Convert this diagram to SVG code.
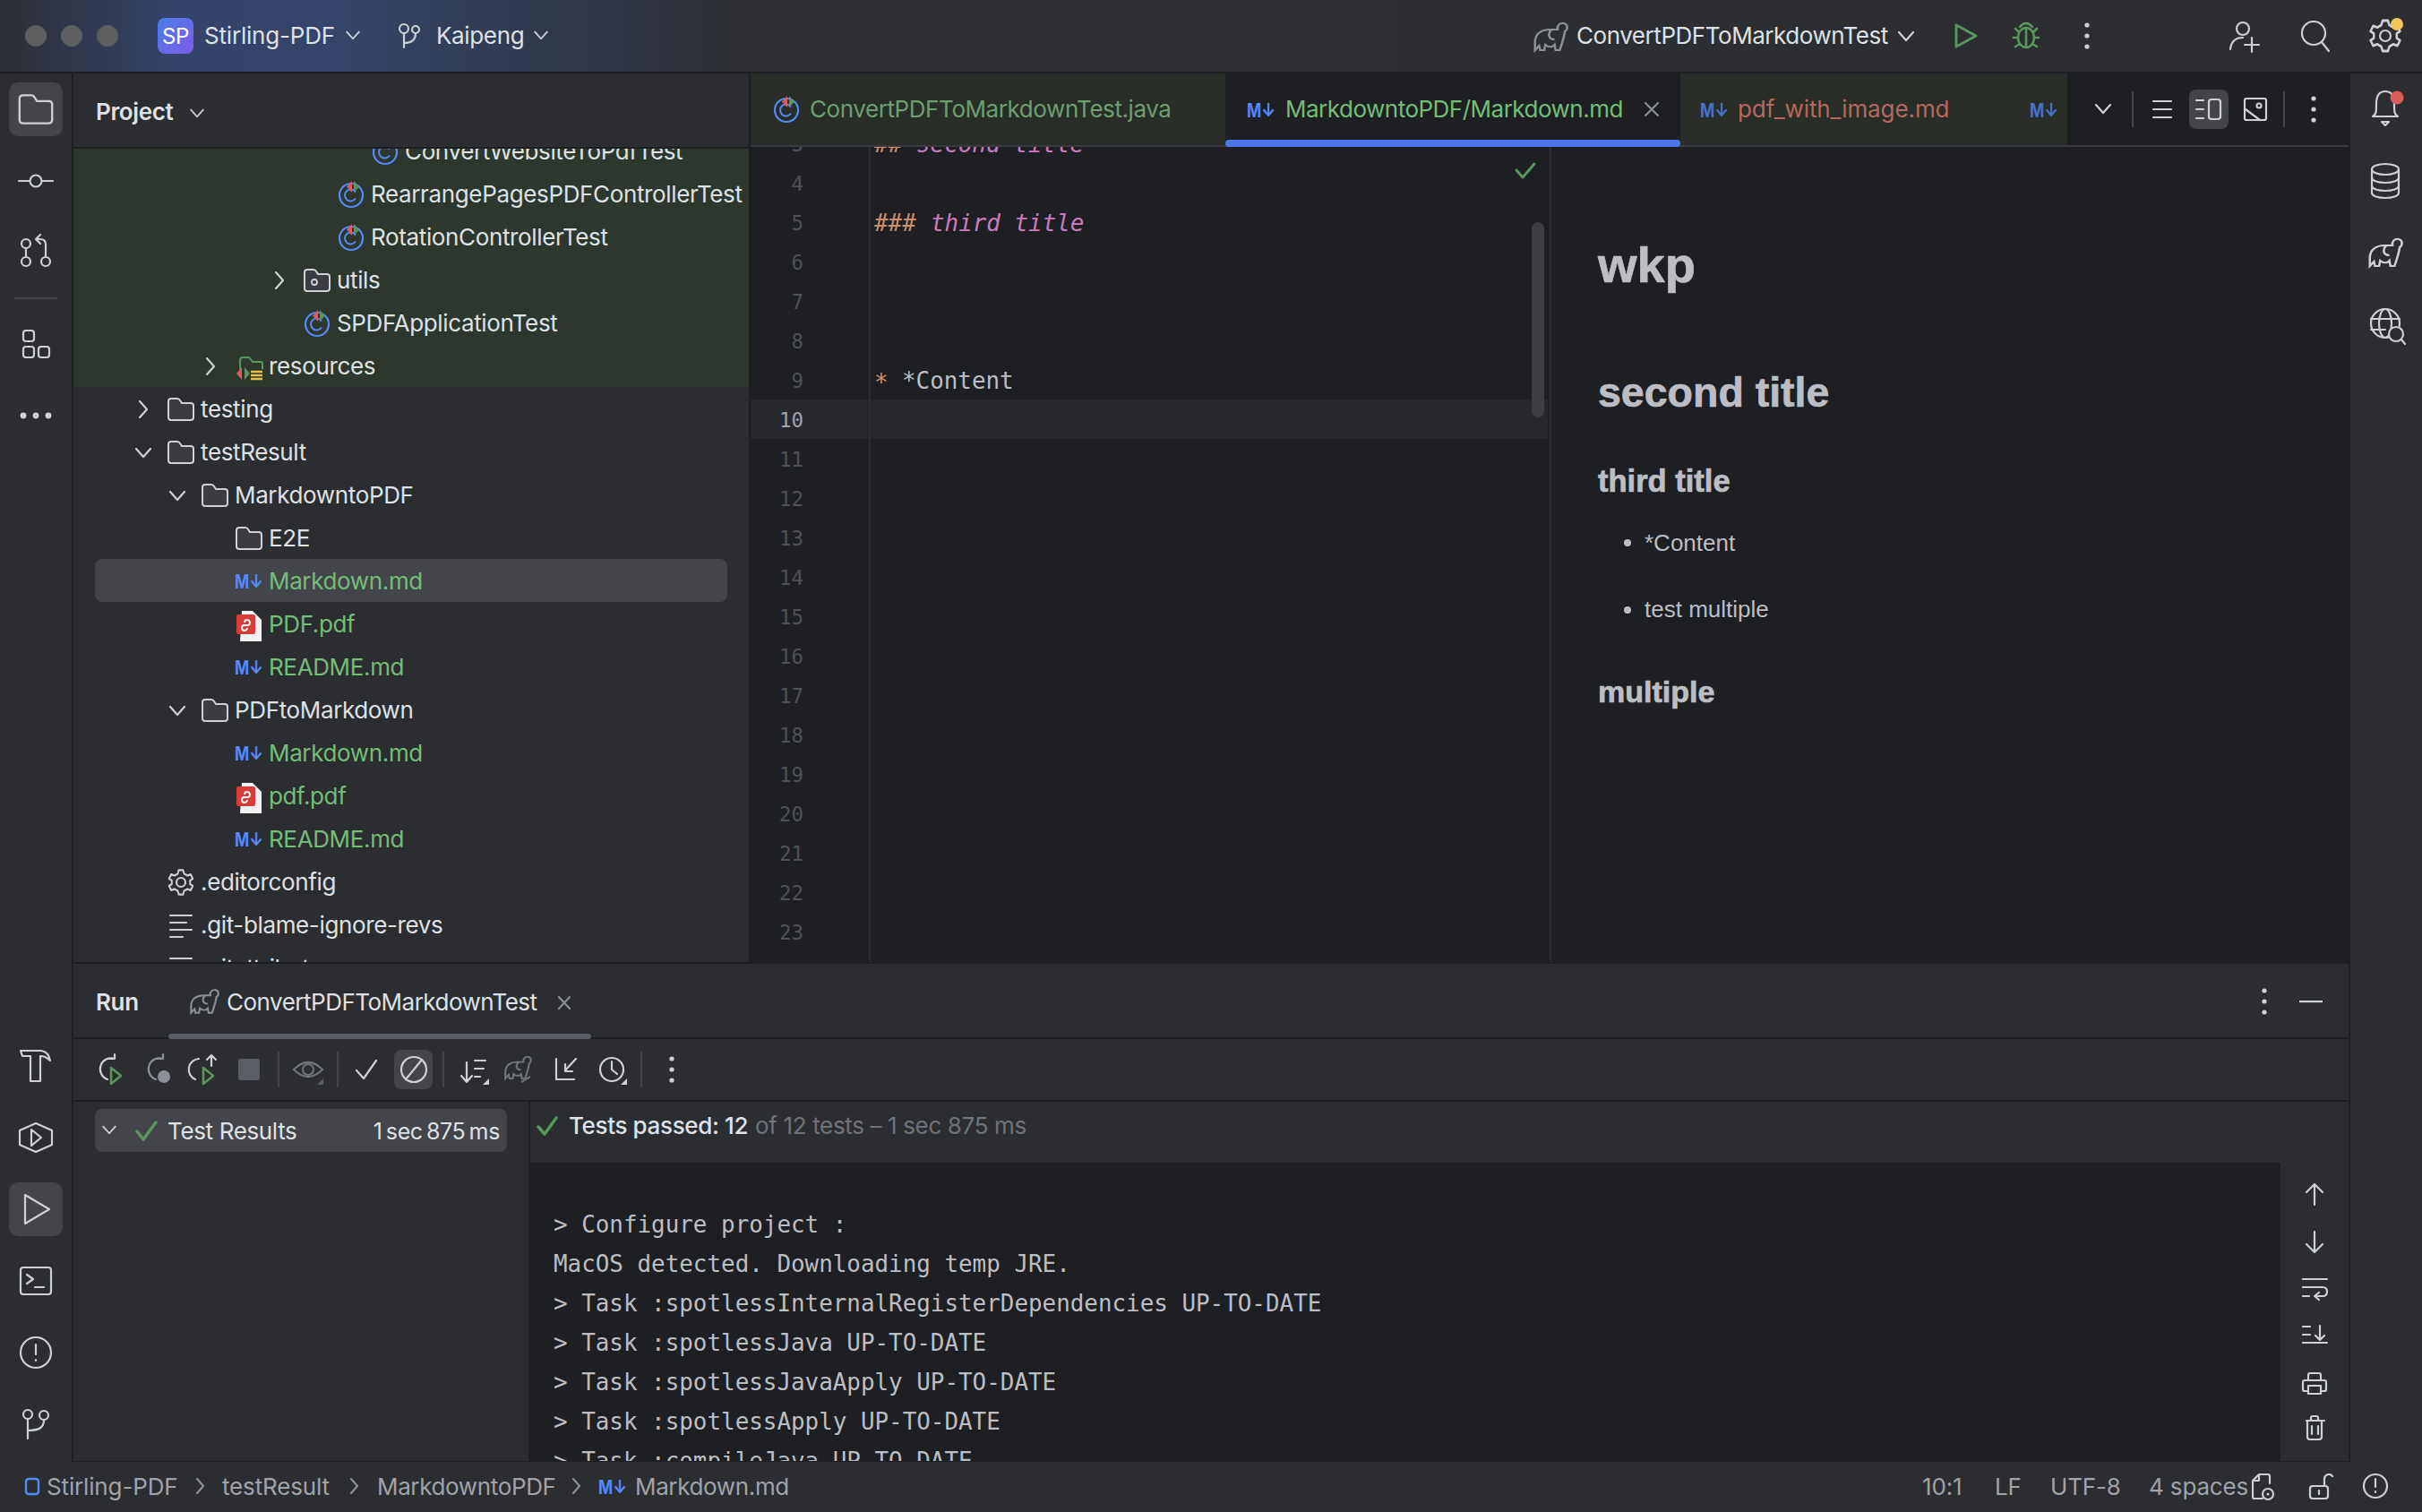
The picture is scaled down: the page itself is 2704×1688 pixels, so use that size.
<svg xmlns="http://www.w3.org/2000/svg" width="2704" height="1688" viewBox="0 0 2704 1688">
<style>
.t{font-family:Inter,"Liberation Sans",sans-serif;font-size:26px;fill:#dfe1e5;letter-spacing:-.36px}
.b{font-weight:600}
.g{fill:#73bd79}
.dim{fill:#6f737a}
.st{fill:#a0a3a9;letter-spacing:-.15px}
.ts{word-spacing:-2.5px}
.m{font-family:"DejaVu Sans Mono","Liberation Mono",monospace;font-size:25.9px;fill:#bcbec4}
.n{font-family:"DejaVu Sans Mono","Liberation Mono",monospace;font-size:22.4px;fill:#4e5157;text-anchor:end}
.p{font-family:"Liberation Sans",Arial,sans-serif;fill:#bcbec4}
.pb{font-weight:700;stroke:#bcbec4;stroke-width:.7px}
.md{font-family:Inter,"Liberation Sans",sans-serif;font-size:21px;font-weight:700;fill:#548af7}
.i{fill:none;stroke:#ced0d6;stroke-width:2.2;stroke-linecap:round;stroke-linejoin:round}
.d{fill:none;stroke:#8c8f96;stroke-width:2.2;stroke-linecap:round;stroke-linejoin:round}
.gi{fill:none;stroke:#57965c;stroke-width:2.6;stroke-linecap:round;stroke-linejoin:round}
.hl{fill:#43454a}
.dv{fill:#1e1f22}
.sep{fill:#43454a}
.dot{fill:#ced0d6}
</style>
<defs>
<linearGradient id="tg" gradientUnits="userSpaceOnUse" x1="0" y1="0" x2="2704" y2="0">
<stop offset="0" stop-color="#2c2e33"/><stop offset="0.07" stop-color="#35436a"/><stop offset="0.14" stop-color="#35446a"/><stop offset="0.3" stop-color="#2d2f34"/><stop offset="1" stop-color="#2b2d30"/>
</linearGradient>
<linearGradient id="sp" x1="0" y1="0" x2="1" y2="1"><stop offset="0" stop-color="#4a7ee8"/><stop offset="1" stop-color="#7c5ce8"/></linearGradient>
<clipPath id="ct"><rect x="82" y="166" width="754" height="908"/></clipPath>
<clipPath id="ce"><rect x="838" y="164" width="890" height="910"/></clipPath>
<clipPath id="cc"><rect x="592" y="1298" width="1954" height="333"/></clipPath>
<g id="folder"><path d="M-11-12h7q2 0 3 2l2 3h10q3 0 3 3v13q0 3-3 3h-22q-3 0-3-3v-18q0-3 3-3z" fill="#3a3c41" stroke="#ced0d6" stroke-width="2"/></g>
<g id="cic"><circle r="13" cy="1" fill="none" stroke="#548af7" stroke-width="2.2"/><path d="M5 -2.500A6.500 6.500 0 1 0 5 4.500" fill="none" stroke="#548af7" stroke-width="2"/><path d="M1-15V-2L-5-8.500z" fill="#db5c5c"/><path d="M3-15V-2L9-8.500z" fill="#57965c"/></g>
<path id="chr" d="M-4-9L4 0L-4 9" class="i"/>
<path id="chd" d="M-8-4L0 5L8-4" class="i"/>
<g id="pdf"><path d="M-8-14h12l10 10v24h-24z" fill="#f2f2f2"/><rect x="-14" y="-10" width="21" height="22" rx="2" fill="#db3b3b"/><path d="M-5-1a3 3 0 1 1 3 3h-3a3 3 0 1 0 3 3" fill="none" stroke="#fff" stroke-width="1.800"/></g>
<g id="ele"><path transform="scale(1.15 1)" d="M-15 15V6C-15-4-8-8-1-8H7C6-12 9-16 13-15C17-14 17-8 14-6C13 2 11 8 9 15H5L4 9C2 12-2 12-5 9L-6 15H-10L-11 10ZM1-8C-3-3-2 3 4 3"/></g>
<path id="gear" d="M-4-20h8l2 6 6 3 6-2 4 7-5 3v6l5 3-4 7-6-2-6 3-2 6h-8l-2-6-6-3-6 2-4-7 5-3v-6l-5-3 4-7 6 2 6-3z" fill="none" stroke="#ced0d6" stroke-width="3.300" stroke-linejoin="round"/>
<g id="dots"><circle cy="-12" r="2.600"/><circle r="2.600"/><circle cy="12" r="2.600"/></g>
</defs>

<rect width="2704" height="1688" fill="#1e1f22"/>

<g id="title-bar">
<rect width="2704" height="80" fill="url(#tg)"/>
<circle cx="40" cy="40" r="12" fill="#5c5e60"/><circle cx="80" cy="40" r="12" fill="#5c5e60"/><circle cx="120" cy="40" r="12" fill="#5c5e60"/>
<rect x="176" y="20" width="40" height="40" rx="8" fill="url(#sp)"/>
<text x="196" y="49" class="t" text-anchor="middle" style="font-size:24px;fill:#fff">SP</text>
<text x="228" y="49" class="t" style="letter-spacing:-.2px">Stirling-PDF</text>
<use href="#chd" transform="translate(394 39) scale(.85)"/>
<circle class="i" cx="451" cy="32" r="5"/><circle class="i" cx="464" cy="33" r="4"/><path class="i" d="M451 37v16M451 48c8 0 13-3 13-11"/>
<text x="487" y="49" class="t">Kaipeng</text>
<use href="#chd" transform="translate(604 39) scale(.85)"/>
<use href="#ele" x="1731" y="41" fill="none" stroke="#8c8f96" stroke-width="2.200"/>
<text x="1760" y="49" class="t" style="letter-spacing:-.45px">ConvertPDFToMarkdownTest</text>
<use href="#chd" x="2128" y="40"/>
<path class="gi" d="M2184 28L2206 40L2184 52Z" style="stroke-width:3"/>
<g class="gi"><ellipse cx="2262" cy="42" rx="9" ry="11"/><path d="M2255 30q7-8 14 0M2250 32l4 4M2274 32l-4 4M2248 42h5M2276 42h-5M2250 52l5-3M2274 52l-5-3M2262 32v20"/></g>
<use href="#dots" x="2330" y="40" fill="#ced0d6"/>
<circle class="i" cx="2504" cy="32" r="7"/><path class="i" d="M2490 55c1-9 6-13 14-13M2506 50h16M2514 42v16"/>
<circle class="i" cx="2583" cy="37" r="13"/><path class="i" d="M2592 47l8 10"/>
<circle class="i" cx="2663" cy="40" r="6"/><use href="#gear" transform="translate(2663 40) scale(.75 .85)"/>
<circle cx="2676" cy="27" r="7" fill="#f2c55c"/>
</g>

<rect y="80" width="2704" height="1608" class="dv"/>

<g id="left-toolbar">
<rect y="82" width="80" height="1550" fill="#2b2d30"/>
<rect x="10" y="92" width="60" height="60" rx="10" class="hl"/>
<path transform="translate(40 122) scale(1.300)" d="M-11-12h7q2 0 3 2l2 3h10q3 0 3 3v13q0 3-3 3h-22q-3 0-3-3v-18q0-3 3-3z" fill="none" stroke="#ced0d6" stroke-width="1.800"/>
<circle class="i" cx="40" cy="202" r="6.500"/><path class="i" d="M21 202h12M47 202h12"/>
<circle class="i" cx="29" cy="272" r="5"/><circle class="i" cx="29" cy="292" r="5"/><circle class="i" cx="51" cy="292" r="5"/><path class="i" d="M29 277v10M51 287v-14q0-6-6-6h-4M45 262l-5 5 5 5"/>
<rect x="16" y="332" width="48" height="2" fill="#43454a"/>
<rect class="i" x="26" y="369" width="12" height="12" rx="3"/><rect class="i" x="26" y="387" width="12" height="12" rx="3"/><rect class="i" x="43" y="387" width="12" height="12" rx="3"/>
<circle cx="26" cy="464" r="3.400" class="dot"/><circle cx="40" cy="464" r="3.400" class="dot"/><circle cx="54" cy="464" r="3.400" class="dot"/>
<path class="i" d="M23 1173H46Q54 1174 56 1184Q51 1179 45 1179V1207H34V1179H25Z"/>
<path class="i" d="M40 1254l18 8v16l-18 8-18-8v-16zM35 1261l11 9-11 9z"/>
<rect x="10" y="1320" width="60" height="60" rx="10" class="hl"/>
<path class="i" d="M28 1334l27 16-27 16z"/>
<rect class="i" x="23" y="1415" width="34" height="30" rx="3"/><path class="i" d="M30 1423l7 5-7 5M39 1437h10"/>
<circle class="i" cx="40" cy="1510" r="17"/><path class="i" d="M40 1501v11M40 1518v1"/>
<circle class="i" cx="31" cy="1579" r="5"/><circle class="i" cx="49" cy="1580" r="5"/><path class="i" d="M31 1584v22M31 1597c14 0 18-4 18-12"/>
</g>

<g id="project-panel">
<rect x="82" y="82" width="754" height="82" fill="#2b2d30"/>
<text x="107" y="134" class="t b">Project</text>
<use href="#chd" transform="translate(220 126) scale(.85)"/>
<rect x="82" y="166" width="754" height="908" fill="#2b2d30"/>
<rect x="82" y="166" width="754" height="266" fill="#2d372d"/>
<rect x="106" y="624" width="706" height="48" rx="8" class="hl"/>
<g clip-path="url(#ct)">
<use href="#cic" x="430" y="169"/><text x="452" y="178" class="t">ConvertWebsiteToPdfTest</text>
<use href="#cic" x="392" y="217"/><text x="414" y="226" class="t">RearrangePagesPDFControllerTest</text>
<use href="#cic" x="392" y="265"/><text x="414" y="274" class="t">RotationControllerTest</text>
<use href="#chr" x="312" y="313"/><use href="#folder" x="354" y="313"/><circle cx="351" cy="315" r="3" fill="none" stroke="#ced0d6" stroke-width="1.800"/><text x="376" y="322" class="t">utils</text>
<use href="#cic" x="354" y="361"/><text x="376" y="370" class="t">SPDFApplicationTest</text>
<use href="#chr" x="235" y="409"/>
<path d="M268 421v-19q0-3 3-3h7l4 5h9q2 0 2 2v6" fill="none" stroke="#57965c" stroke-width="2"/><path d="M270 410v14l-6-7z" fill="#db5c5c"/><path d="M273 410v14l6-7z" fill="#57965c"/><path d="M280 415h13M280 419h13M280 423h13" stroke="#e5c04f" stroke-width="2.400"/>
<text x="300" y="418" class="t">resources</text>
<use href="#chr" x="160" y="457"/><use href="#folder" x="202" y="457"/><text x="224" y="466" class="t">testing</text>
<use href="#chd" x="160" y="505"/><use href="#folder" x="202" y="505"/><text x="224" y="514" class="t">testResult</text>
<use href="#chd" x="198" y="553"/><use href="#folder" x="240" y="553"/><text x="262" y="562" class="t">MarkdowntoPDF</text>
<use href="#folder" x="278" y="601"/><text x="300" y="610" class="t">E2E</text>
<text x="262" y="657" class="md" textLength="32" lengthAdjust="spacingAndGlyphs">M↓</text><text x="300" y="658" class="t g">Markdown.md</text>
<use href="#pdf" x="278" y="696"/><text x="300" y="706" class="t g">PDF.pdf</text>
<text x="262" y="753" class="md" textLength="32" lengthAdjust="spacingAndGlyphs">M↓</text><text x="300" y="754" class="t g">README.md</text>
<use href="#chd" x="198" y="793"/><use href="#folder" x="240" y="793"/><text x="262" y="802" class="t">PDFtoMarkdown</text>
<text x="262" y="849" class="md" textLength="32" lengthAdjust="spacingAndGlyphs">M↓</text><text x="300" y="850" class="t g">Markdown.md</text>
<use href="#pdf" x="278" y="888"/><text x="300" y="898" class="t g">pdf.pdf</text>
<text x="262" y="945" class="md" textLength="32" lengthAdjust="spacingAndGlyphs">M↓</text><text x="300" y="946" class="t g">README.md</text>
<circle class="i" cx="202" cy="985" r="5"/><use href="#gear" transform="translate(202 985) scale(.6 .68)"/><text x="224" y="994" class="t">.editorconfig</text>
<path class="i" d="M190 1022h24M190 1030h18M190 1038h24M190 1046h14"/><text x="224" y="1042" class="t">.git-blame-ignore-revs</text>
<path class="i" d="M190 1070h24M190 1078h18"/><text x="224" y="1090" class="t">.gitattributes</text>
</g>
</g>

<g id="tabs">
<rect x="838" y="82" width="530" height="80" fill="#282d27"/>
<rect x="1876" y="82" width="432" height="80" fill="#282d27"/>
<rect x="838" y="162" width="1784" height="2" fill="#393b40"/>
<use href="#cic" x="878" y="122"/>
<text x="904" y="131" class="t" style="fill:#6d9e6f;letter-spacing:-.42px">ConvertPDFToMarkdownTest.java</text>
<rect x="1368" y="156" width="508" height="8" rx="4" fill="#4a78e8"/>
<text x="1392" y="131" class="md" textLength="32" lengthAdjust="spacingAndGlyphs">M↓</text>
<text x="1435" y="131" class="t g" style="letter-spacing:-.5px">MarkdowntoPDF/Markdown.md</text>
<path d="M1837 115l14 14M1851 115l-14 14" class="d"/>
<text x="1898" y="131" class="md" style="fill:#4a72c4" textLength="32" lengthAdjust="spacingAndGlyphs">M↓</text>
<text x="1940" y="131" class="t" style="fill:#b5685f;letter-spacing:-.1px">pdf_with_image.md</text>
<text x="2266" y="131" class="md" style="fill:#4a72c4" textLength="32" lengthAdjust="spacingAndGlyphs">M↓</text>
<use href="#chd" x="2348" y="121"/>
<rect x="2380" y="102" width="2" height="40" class="sep"/>
<path class="i" d="M2404 113h20M2404 122h20M2404 131h20"/>
<rect x="2444" y="100" width="44" height="44" rx="8" class="hl"/>
<path class="i" d="M2452 112h8M2452 122h8M2452 132h8"/><rect class="i" x="2466" y="111" width="13" height="22" rx="3"/>
<rect class="i" x="2506" y="110" width="24" height="24" rx="2"/><circle class="i" cx="2522" cy="118" r="2.500"/><path class="i" d="M2507 122l16 12"/>
<rect x="2549" y="102" width="2" height="40" class="sep"/>
<use href="#dots" x="2583" y="122" fill="#ced0d6"/>
</g>

<g id="editor">
<rect x="838" y="446" width="890" height="44" fill="#26282e"/>
<rect x="970" y="164" width="2" height="910" fill="#2b2d30"/>
<g clip-path="url(#ce)">
<text x="897" y="169" class="n">3</text><text x="897" y="213" class="n">4</text><text x="897" y="257" class="n">5</text><text x="897" y="301" class="n">6</text><text x="897" y="345" class="n">7</text><text x="897" y="389" class="n">8</text><text x="897" y="433" class="n">9</text>
<text x="897" y="477" class="n" style="fill:#a1a3ab">10</text>
<text x="897" y="521" class="n">11</text><text x="897" y="565" class="n">12</text><text x="897" y="609" class="n">13</text><text x="897" y="653" class="n">14</text><text x="897" y="697" class="n">15</text><text x="897" y="741" class="n">16</text><text x="897" y="785" class="n">17</text><text x="897" y="829" class="n">18</text><text x="897" y="873" class="n">19</text><text x="897" y="917" class="n">20</text><text x="897" y="961" class="n">21</text><text x="897" y="1005" class="n">22</text><text x="897" y="1049" class="n">23</text>
<text x="976" y="170" class="m" font-style="italic" style="fill:#cf8e6d">##</text><text x="1023" y="170" class="m" font-style="italic" style="fill:#c77dbb">second title</text>
<text x="976" y="258" class="m" font-style="italic" style="fill:#cf8e6d">###</text><text x="1039" y="258" class="m" font-style="italic" style="fill:#c77dbb">third title</text>
<text x="976" y="436" class="m" style="fill:#cf8e6d">*</text><text x="1007" y="434" class="m">*Content</text>
</g>
<path class="gi" d="M1693 190l7 8 13-15" style="stroke-width:3"/>
<rect x="1710" y="248" width="14" height="218" rx="7" fill="#3d3f43"/>
<rect x="1730" y="164" width="2" height="910" fill="#2b2d30"/>
</g>

<g id="preview">
<text x="1784" y="315" class="p pb" style="font-size:56px">wkp</text>
<text x="1784" y="454" class="p pb" style="font-size:46.500px">second title</text>
<text x="1784" y="549" class="p pb" style="font-size:34.500px">third title</text>
<circle cx="1817" cy="606" r="4" fill="#bcbec4"/>
<text x="1836" y="615" class="p" style="font-size:26px">*Content</text>
<circle cx="1817" cy="681" r="4" fill="#bcbec4"/>
<text x="1836" y="689" class="p" style="font-size:26px">test multiple</text>
<text x="1784" y="784" class="p pb" style="font-size:34px">multiple</text>
</g>

<g id="right-toolbar">
<rect x="2624" y="82" width="80" height="1550" fill="#2b2d30"/>
<path class="i" d="M2649 130c4-2 4-6 4-14c0-10 4-14 10-14s10 4 10 14c0 8 0 12 4 14zM2659 136h8l-4 4z"/>
<circle cx="2676" cy="109" r="7.500" fill="#db5c5c"/>
<ellipse class="i" cx="2663" cy="189" rx="15" ry="6"/><path class="i" d="M2648 189v26c0 8 30 8 30 0v-26M2648 198c0 8 30 8 30 0M2648 207c0 8 30 8 30 0"/>
<use href="#ele" x="2663" y="282" fill="none" stroke="#ced0d6" stroke-width="2.200"/>
<circle class="i" cx="2663" cy="361" r="16"/><ellipse class="i" cx="2663" cy="361" rx="7" ry="16"/><path class="i" d="M2647 356h32M2647 368h16"/><circle cx="2675" cy="373" r="8" fill="#2b2d30" stroke="#ced0d6" stroke-width="2.200"/><path class="i" d="M2681 379l4 5"/>
</g>

<g id="run-panel">
<rect x="82" y="1076" width="2540" height="82" fill="#2b2d30"/>
<rect x="82" y="1160" width="2540" height="68" fill="#2b2d30"/>
<rect x="82" y="1230" width="508" height="401" fill="#2b2d30"/>
<rect x="592" y="1230" width="2030" height="68" fill="#2b2d30"/>
<rect x="2546" y="1298" width="76" height="333" fill="#2b2d30"/>
<text x="107" y="1128" class="t b">Run</text>
<use href="#ele" transform="translate(228 1118) scale(.85)" fill="none" stroke="#8c8f96" stroke-width="2.200"/>
<text x="253" y="1128" class="t" style="letter-spacing:-.5px">ConvertPDFToMarkdownTest</text>
<path d="M624 1113l12 13M636 1113l-12 13" class="d"/>
<rect x="188" y="1154" width="472" height="6" rx="3" fill="#5a5d63"/>
<use href="#dots" x="2528" y="1118" fill="#ced0d6"/>
<rect x="2567" y="1117" width="26" height="2.200" fill="#ced0d6"/>

<path class="i" d="M128 1177v5h-6M128 1182a12 12 0 1 0-8 23"/><path class="gi" d="M124 1192l11 9-11 9z"/>
<path class="d" d="M182 1177v5h-6M182 1182a12 12 0 1 0-8 23"/><circle cx="183" cy="1202" r="7" fill="#8c8f96"/>
<path class="i" d="M218 1205a12 12 0 0 1 4-23M236 1178v12M231 1183l5-5 5 5"/><path class="gi" d="M227 1192l11 9-11 9z"/>
<rect x="266" y="1182" width="24" height="24" rx="3" fill="#5a5d63"/>
<rect x="310" y="1174" width="2" height="40" class="sep"/>
<path d="M328 1194q16-16 32 0q-16 16-32 0z" fill="none" stroke="#6f737a" stroke-width="2.200"/><circle cx="344" cy="1194" r="6" fill="none" stroke="#6f737a" stroke-width="2.200"/><path d="M361 1204v7h-7z" fill="#5a5d63"/>
<rect x="376" y="1174" width="2" height="40" class="sep"/>
<path class="i" d="M398 1195l8 9 14-20"/>
<rect x="440" y="1172" width="43" height="44" rx="8" class="hl"/>
<circle class="i" cx="462" cy="1194" r="14"/><path class="i" d="M453 1205l18-22"/>
<rect x="494" y="1174" width="2" height="40" class="sep"/>
<path class="i" d="M521 1186v22M515 1201l6 7 6-7M530 1184h12M530 1193h10M530 1202h6"/><path d="M546 1204v7h-7z" fill="#ced0d6"/>
<use href="#ele" transform="translate(578 1192) scale(.8)" fill="none" stroke="#6f737a" stroke-width="2.400"/><path d="M582 1208l10-6" fill="none" stroke="#6f737a" stroke-width="2.200"/>
<path class="i" d="M621 1182v23h20M643 1182l-12 13M631 1188v8h8"/>
<circle class="i" cx="683" cy="1194" r="13"/><path class="i" d="M683 1185v9l6 5"/><path d="M700 1204v7h-7z" fill="#ced0d6"/>
<rect x="715" y="1174" width="2" height="40" class="sep"/>
<use href="#dots" x="750" y="1194" fill="#ced0d6"/>

<rect x="106" y="1238" width="460" height="48" rx="8" class="hl"/>
<use href="#chd" transform="translate(122 1261) scale(.85)"/>
<path class="gi" d="M153 1263l7 9 14-19" style="stroke-width:3.500"/>
<text x="187" y="1272" class="t">Test Results</text>
<text x="558" y="1272" class="t ts" text-anchor="end" style="font-size:25px">1 sec 875 ms</text>

<path class="gi" d="M601 1258l7 8 13-18" style="stroke-width:3.500"/>
<text x="635" y="1266" class="t"><tspan style="font-weight:500">Tests passed: 12</tspan><tspan class="dim" dx="8">of 12 tests – 1 sec 875 ms</tspan></text>

<g clip-path="url(#cc)">
<text x="618" y="1376" class="m">&gt; Configure project :</text>
<text x="618" y="1420" class="m">MacOS detected. Downloading temp JRE.</text>
<text x="618" y="1464" class="m">&gt; Task :spotlessInternalRegisterDependencies UP-TO-DATE</text>
<text x="618" y="1508" class="m">&gt; Task :spotlessJava UP-TO-DATE</text>
<text x="618" y="1552" class="m">&gt; Task :spotlessJavaApply UP-TO-DATE</text>
<text x="618" y="1596" class="m">&gt; Task :spotlessApply UP-TO-DATE</text>
<text x="618" y="1640" class="m">&gt; Task :compileJava UP-TO-DATE</text>
</g>

<path class="i" d="M2584 1345v-23M2575 1331l9-9 9 9"/>
<path class="i" d="M2584 1375v23M2575 1389l9 9 9-9"/>
<path class="i" d="M2571 1428h27M2571 1447h7M2571 1437h22q5 0 5 5t-5 5h-9M2589 1443l-5 4 5 4"/>
<path class="i" d="M2571 1481h8M2571 1490h8M2571 1499h27M2590 1480v16M2585 1491l5 5 5-5"/>
<path class="i" d="M2577 1541v-6q0-2 2-2h10q2 0 2 2v6M2576 1553h-3q-2 0-2-2v-8q0-2 2-2h22q2 0 2 2v8q0 2-2 2h-3M2577 1547h14v9h-14z"/>
<path class="i" d="M2575 1586h20M2580 1586v-3q0-2 2-2h4q2 0 2 2v3M2576 1586v18q0 3 3 3h10q3 0 3-3v-18M2581 1592v9M2588 1592v9"/>
</g>

<g id="status-bar">
<rect y="1632" width="2704" height="56" fill="#2b2d30"/>
<rect x="29" y="1651" width="14" height="17" rx="3" fill="none" stroke="#548af7" stroke-width="2.400"/>
<text x="52" y="1669" class="t st">Stirling-PDF</text>
<path class="d" d="M220 1651l7 8-7 8"/>
<text x="248" y="1669" class="t st">testResult</text>
<path class="d" d="M392 1651l7 8-7 8"/>
<text x="421" y="1669" class="t st" style="letter-spacing:-.36px">MarkdowntoPDF</text>
<path class="d" d="M640 1651l7 8-7 8"/>
<text x="668" y="1668" class="md" textLength="32" lengthAdjust="spacingAndGlyphs">M↓</text>
<text x="709" y="1669" class="t st" style="letter-spacing:-.36px">Markdown.md</text>
<text x="2146" y="1669" class="t st">10:1</text>
<text x="2227" y="1669" class="t st">LF</text>
<text x="2289" y="1669" class="t st">UTF-8</text>
<text x="2399" y="1669" class="t st">4 spaces</text>
<path class="i" d="M2526 1673h-9q-2 0-2-2v-18l7-7h10q2 0 2 2v8M2522 1646v7h-7"/><circle class="i" cx="2532" cy="1668" r="6"/><circle cx="2532" cy="1668" r="1.500" fill="#ced0d6"/>
<rect class="i" x="2579" y="1659" width="20" height="14" rx="3"/><path class="i" d="M2589 1664v4M2595 1659v-8a5 5 0 0 1 9-3"/>
<circle class="i" cx="2652" cy="1659" r="13"/><path class="i" d="M2652 1651v9M2652 1665v1"/>
</g>
</svg>
